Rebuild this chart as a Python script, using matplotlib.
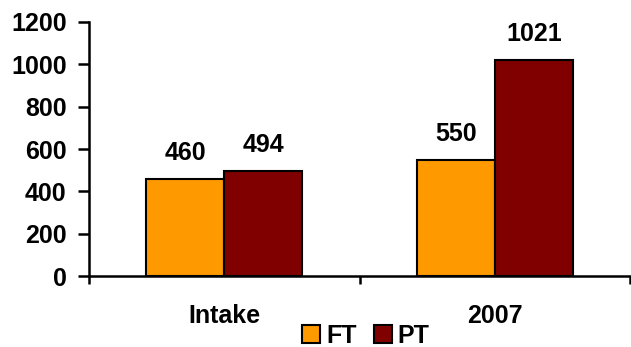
import matplotlib
matplotlib.use("Agg")
import matplotlib.pyplot as plt
import numpy as np

categories = ["Intake", "2007"]
ft_values = [460, 550]
pt_values = [494, 1021]
series_names = ["FT", "PT"]
y_ticks = [0, 200, 400, 600, 800, 1000, 1200]

plt.rcParams["font.family"] = ["Liberation Sans", "DejaVu Sans"]
plt.rcParams["font.weight"] = "bold"

FS = 18

fig = plt.figure(figsize=(6.31, 3.47), dpi=100)
ax = fig.add_axes([0.141, 0.2046, 0.858, 0.732])

x = np.arange(len(categories))
w = 0.288
bars_ft = ax.bar(x - w / 2, ft_values, w, color="#FF9900", edgecolor="black",
                 linewidth=1.5, label=series_names[0], zorder=3)
bars_pt = ax.bar(x + w / 2, pt_values, w, color="#800000", edgecolor="black",
                 linewidth=1.5, label=series_names[1], zorder=3)

for bars, vals in ((bars_ft, ft_values), (bars_pt, pt_values)):
    for b, v in zip(bars, vals):
        ax.annotate(str(v), (b.get_x() + b.get_width() / 2, v),
                    xytext=(0, 14), textcoords="offset pixels",
                    ha="center", va="bottom", fontsize=FS, fontweight="bold")

ax.set_xlim(-0.5, len(categories) - 0.5)
ax.set_ylim(0, 1200)
ax.set_yticks(y_ticks)
ax.set_yticklabels([str(t) for t in y_ticks], fontsize=FS, fontweight="bold")

# group boundaries carry the tick marks, category names sit at the centres
ax.set_xticks(np.arange(len(categories) + 1) - 0.5)
ax.set_xticklabels([])
ax.set_xticks(x, minor=True)
ax.set_xticklabels(categories, minor=True, fontsize=FS, fontweight="bold")
ax.tick_params(axis="x", which="minor", length=0, pad=20)
ax.tick_params(axis="x", which="major", length=6, width=1.8, direction="out")
ax.tick_params(axis="y", length=8, width=1.8, direction="out", pad=8)

for side in ("top", "right"):
    ax.spines[side].set_visible(False)
for side in ("left", "bottom"):
    ax.spines[side].set_linewidth(1.8)

fig.legend(handles=[bars_ft, bars_pt], labels=series_names, loc="center",
           bbox_to_anchor=(0.58, 0.032), ncol=2, frameon=False,
           fontsize=FS, handlelength=0.7, handleheight=0.7,
           handletextpad=0.25, columnspacing=0.7, borderpad=0)

fig.savefig("out.png", dpi=100)
